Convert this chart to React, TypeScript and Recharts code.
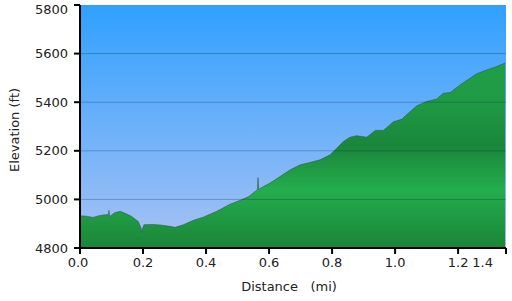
import React from 'react';
import { AreaChart, Area, XAxis, YAxis, CartesianGrid, ReferenceLine, Label } from 'recharts';

// distance along trail (mi) and elevation (ft)
const distance = [
  0.0, 0.02, 0.041, 0.06, 0.075, 0.09, 0.092, 0.094, 0.11, 0.127, 0.145, 0.164, 0.185, 0.194, 0.196, 0.199,
  0.203, 0.23, 0.254, 0.286, 0.302, 0.328, 0.36, 0.391, 0.434, 0.476, 0.508, 0.536, 0.563, 0.565, 0.567,
  0.603, 0.635, 0.667, 0.698, 0.73, 0.762, 0.794, 0.815, 0.836, 0.857, 0.878, 0.91, 0.937, 0.963, 0.995,
  1.021, 1.042, 1.069, 1.1, 1.132, 1.153, 1.175, 1.206, 1.238, 1.259, 1.291, 1.323, 1.349,
];
const elevation = [
  4933, 4931, 4926, 4933, 4936, 4938, 4955, 4930, 4945, 4951, 4942, 4930, 4909, 4882, 4864, 4882,
  4896, 4897, 4895, 4889, 4885, 4896, 4914, 4927, 4951, 4980, 4996, 5012, 5040, 5090, 5042,
  5067, 5094, 5122, 5142, 5152, 5163, 5184, 5211, 5238, 5256, 5262, 5256, 5284, 5284, 5320,
  5330, 5355, 5385, 5403, 5413, 5437, 5440, 5471, 5499, 5517, 5533, 5547, 5561,
];

const xTicks = [0, 0.2, 0.4, 0.6, 0.8, 1.0, 1.2, 1.352];
const yTicks = [4800, 5000, 5200, 5400, 5600, 5800];
const gridLines = [5000, 5200, 5400, 5600];

const data = distance.map((d, i) => ({ d, e: elevation[i] }));

const font = '"DejaVu Sans", Verdana, sans-serif';

const XTick = (props: any) => {
  const { x, y, payload, index } = props;
  const last = index === xTicks.length - 1;
  const first = index === 0;
  return (
    <text x={last ? x - 1 : first ? x - 2 : x} y={y} dy="0.71em" textAnchor={last ? 'end' : 'middle'} fill="#222" fontSize={13} fontFamily={font}>
      {payload.value.toFixed(1)}
    </text>
  );
};

const YTick = (props: any) => {
  const { x, y, payload } = props;
  return (
    <text x={x} y={Math.max(y, 9)} dy="0.355em" textAnchor="end" fill="#222" fontSize={13} fontFamily={font}>
      {payload.value}
    </text>
  );
};

export default function App() {
  return (
    <div style={{ position: 'absolute', left: 0, top: 0, width: 512, height: 301, background: '#fff' }}>
      <AreaChart width={512} height={301} data={data} margin={{ top: 5, right: 6, left: 0, bottom: 0 }}>
        <defs>
          <linearGradient id="sky" x1="0" y1="0" x2="0" y2="1">
            <stop offset="0%" stopColor="#30a0ff" />
            <stop offset="100%" stopColor="#a8c2f4" />
          </linearGradient>
          <linearGradient id="grass" gradientUnits="userSpaceOnUse" x1="0" y1="5" x2="0" y2="248">
            <stop offset="0%" stopColor="#22a64a" />
            <stop offset="40%" stopColor="#1f9a44" />
            <stop offset="58%" stopColor="#1a863a" />
            <stop offset="76%" stopColor="#24ad4d" />
            <stop offset="100%" stopColor="#1a8538" />
          </linearGradient>
        </defs>
        <CartesianGrid horizontal={false} vertical={false} fill="url(#sky)" />
        <XAxis
          type="number"
          dataKey="d"
          domain={[0, 1.352]}
          ticks={xTicks}
          allowDataOverflow
          height={53}
          tick={<XTick />}
          tickSize={6}
          tickMargin={4}
          axisLine={{ stroke: '#000', strokeWidth: 2 }}
          tickLine={{ stroke: '#000', strokeWidth: 2 }}
        >
          <Label
            content={() => (
              <text x={289} y={291} textAnchor="middle" fill="#222" fontSize={13} fontFamily={font} style={{ whiteSpace: 'pre' }}>
                {'Distance   (mi)'}
              </text>
            )}
          />
        </XAxis>
        <YAxis
          type="number"
          domain={[4800, 5800]}
          ticks={yTicks}
          width={80}
          tick={<YTick />}
          tickSize={6}
          tickMargin={6}
          axisLine={{ stroke: '#000', strokeWidth: 2 }}
          tickLine={{ stroke: '#000', strokeWidth: 2 }}
        >
          <Label
            content={() => (
              <text x={19} y={130} textAnchor="middle" transform="rotate(-90 19 130)" fill="#222" fontSize={13} fontFamily={font}>
                Elevation (ft)
              </text>
            )}
          />
        </YAxis>
        <Area
          type="linear"
          dataKey="e"
          baseValue={4800}
          stroke="rgba(50,60,60,0.45)"
          strokeWidth={1}
          fill="url(#grass)"
          fillOpacity={1}
          isAnimationActive={false}
        />
        {gridLines.map((v) => (
          <ReferenceLine key={v} y={v} stroke="rgba(0,40,70,0.28)" strokeWidth={1} />
        ))}
      </AreaChart>
    </div>
  );
}
